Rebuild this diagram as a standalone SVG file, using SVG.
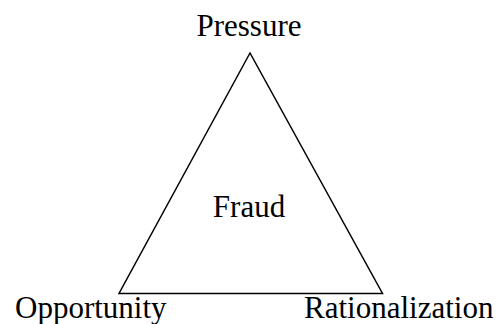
<svg xmlns="http://www.w3.org/2000/svg" width="502" height="324" viewBox="0 0 502 324">
<style>
text { font-family: "Liberation Serif", "Times New Roman", serif; font-size: 31px; fill: #000; }
.edge { stroke: #000; stroke-width: 1.5; fill: none; stroke-linejoin: miter; }
</style>
<rect width="502" height="324" fill="#fff"/>
<g id="connectors">
<path class="edge" d="M250,53 L119,293.5 L382.5,293.5 Z"/>
</g>
<g id="node-pressure"><text x="249" y="36" text-anchor="middle">Pressure</text></g>
<g id="node-fraud"><text x="249" y="217" text-anchor="middle">Fraud</text></g>
<g id="node-opportunity"><text x="15" y="318">Opportunity</text></g>
<g id="node-rationalization"><text x="304" y="318">Rationalization</text></g>
</svg>
